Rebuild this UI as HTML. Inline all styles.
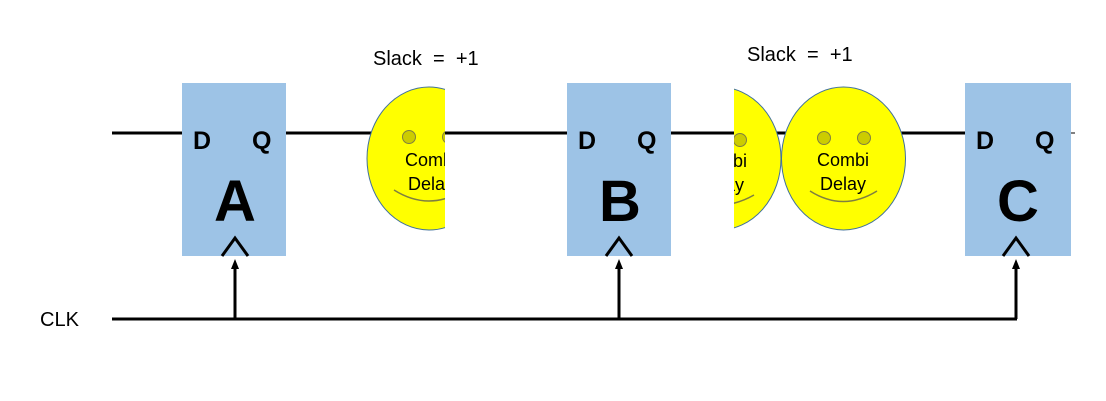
<!DOCTYPE html>
<html><head><style>body{margin:0;background:#fff}svg{display:block}</style></head>
<body>
<svg width="1106" height="401" viewBox="0 0 1106 401" xmlns="http://www.w3.org/2000/svg" font-family="Liberation Sans, DejaVu Sans, sans-serif">
<defs>
<clipPath id="c1"><rect x="300" y="60" width="145" height="200"/></clipPath>
<clipPath id="c2"><rect x="734" y="60" width="60" height="200"/></clipPath>
<marker id="ar" markerWidth="10" markerHeight="10" refX="5" refY="5" orient="auto" markerUnits="userSpaceOnUse"><path d="M0,1 L10,5 L0,9 z" fill="#000"/></marker>
</defs>
<g stroke="#000" stroke-width="3">
<line x1="112" y1="133" x2="182" y2="133"/>
<line x1="286" y1="133" x2="567" y2="133"/>
<line x1="671" y1="133" x2="965" y2="133"/>
<line x1="1071" y1="133" x2="1075" y2="133" stroke-width="1"/>
<line x1="112" y1="319" x2="1017" y2="319"/>
</g>
<g stroke="#000" stroke-width="3" marker-end="url(#ar)">
<line x1="235" y1="319" x2="235" y2="264"/>
<line x1="619" y1="319" x2="619" y2="264"/>
<line x1="1016" y1="319" x2="1016" y2="264"/>
</g>
<g fill="#9dc3e6">
<rect x="182" y="83" width="104" height="173"/>
<rect x="567" y="83" width="104" height="173"/>
<rect x="965" y="83" width="106" height="173"/>
</g>
<g fill="none" stroke="#000" stroke-width="3">
<polyline points="222,256 235,238 248,256"/>
<polyline points="606,256 619,238 632,256"/>
<polyline points="1003,256 1016,238 1029,256"/>
</g>
<g font-weight="bold" font-size="25" fill="#000">
<text x="193" y="149">D</text><text x="252" y="149">Q</text>
<text x="578" y="149">D</text><text x="637" y="149">Q</text>
<text x="976" y="149">D</text><text x="1035" y="149">Q</text>
</g>
<g font-weight="bold" font-size="58" fill="#000" text-anchor="middle">
<text x="235" y="221">A</text><text x="620" y="221">B</text><text x="1018" y="221">C</text>
</g>
<g clip-path="url(#c1)">
<ellipse cx="429" cy="158.5" rx="62" ry="71.5" fill="#ffff00" stroke="#41719c" stroke-width="1"/>
<circle cx="409" cy="137" r="6.5" fill="#cccc00" stroke="#7f7f40"/>
<circle cx="449" cy="137" r="6.5" fill="#cccc00" stroke="#7f7f40"/>
<path d="M394,190 Q429,212 464,190" fill="none" stroke="#7f7f40" stroke-width="1.5"/>
<text x="431" y="166" font-size="18" text-anchor="middle">Combi</text>
<text x="431" y="190" font-size="18" text-anchor="middle">Delay</text>
</g>
<g clip-path="url(#c2)">
<ellipse cx="719" cy="158.5" rx="62" ry="71.5" fill="#ffff00" stroke="#41719c" stroke-width="1"/>
<circle cx="699" cy="140" r="6.5" fill="#cccc00" stroke="#7f7f40"/>
<circle cx="740" cy="140" r="6.5" fill="#cccc00" stroke="#7f7f40"/>
<path d="M684,195 Q719,215 754,195" fill="none" stroke="#7f7f40" stroke-width="1.5"/>
<text x="721" y="167" font-size="18" text-anchor="middle">Combi</text>
<text x="721" y="191" font-size="18" text-anchor="middle">Delay</text>
</g>
<g>
<ellipse cx="843.5" cy="158.5" rx="62" ry="71.5" fill="#ffff00" stroke="#41719c" stroke-width="1"/>
<circle cx="824" cy="138" r="6.5" fill="#cccc00" stroke="#7f7f40"/>
<circle cx="864" cy="138" r="6.5" fill="#cccc00" stroke="#7f7f40"/>
<path d="M810,191 Q843,212 877,191" fill="none" stroke="#7f7f40" stroke-width="1.5"/>
<text x="843" y="166" font-size="18" text-anchor="middle">Combi</text>
<text x="843" y="190" font-size="18" text-anchor="middle">Delay</text>
</g>
<text x="373" y="65" font-size="20" xml:space="preserve">Slack  =  +1</text>
<text x="747" y="61" font-size="20" xml:space="preserve">Slack  =  +1</text>
<text x="40" y="326" font-size="20">CLK</text>
</svg>
</body></html>
